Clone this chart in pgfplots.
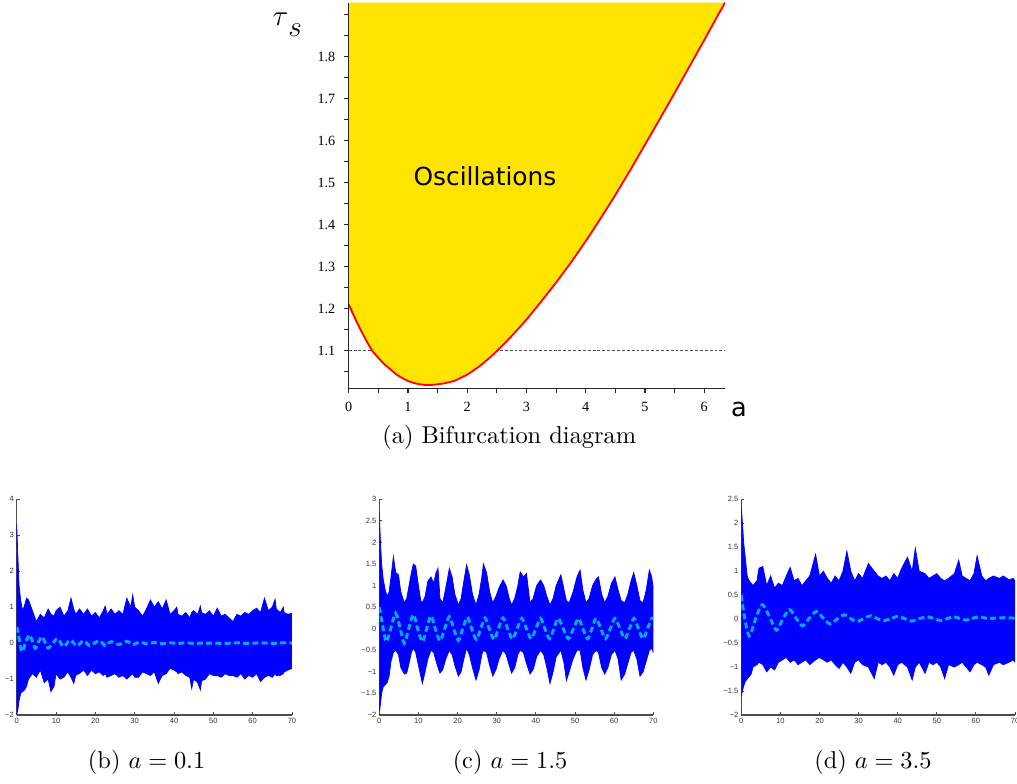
\documentclass[border=0pt]{standalone}
\usepackage{fontspec}
\usepackage{pgfplots}
\pgfplotsset{compat=1.18}
\usepackage{pgfplotstable}
\usepgfplotslibrary{fillbetween}
\newfontfamily\timesf{Liberation Serif}
\newfontfamily\helv{Liberation Sans}
\newfontfamily\dejavu{DejaVu Sans}
\definecolor{oscyellow}{RGB}{255,228,0}

\pgfplotstableread{
a tau
0 1.210
0.1 1.179
0.2 1.150
0.3 1.123
0.4 1.099
0.5 1.083
0.6 1.068
0.7 1.056
0.8 1.044
0.9 1.035
1.0 1.028
1.1 1.023
1.2 1.020
1.3 1.0183
1.4 1.0185
1.5 1.020
1.6 1.022
1.7 1.025
1.8 1.029
2.0 1.043
2.2 1.062
2.4 1.086
2.5 1.099
2.75 1.135
3.0 1.174
3.25 1.2175
3.5 1.2625
3.75 1.310
4.0 1.361
4.25 1.415
4.5 1.471
4.75 1.530
5.0 1.591
5.25 1.652
5.5 1.714
5.75 1.777
6.0 1.840
6.25 1.904
6.35 1.929
}\tabA

\pgfplotstableread{
t up lo
0 3.3 -2.0
0.3 2.4 -1.85
0.6 1.6 -1.6
1 1.2 -1.4
1.5 0.9 -1.35
2 1.05 -1.3
2.5 1.25 -1.2
3 1.2 -1.0
4 0.9 -0.85
5 0.6 -0.95
6 0.8 -0.75
7 0.7 -1.1
8 0.95 -1.0
8.7 0.8 -1.35
9.5 0.75 -1.2
10 0.9 -0.85
11 1.0 -1.0
12 0.75 -0.95
13 0.9 -0.8
13.8 1.25 -0.95
14.5 0.95 -1.12
15 0.8 -0.9
16 0.95 -0.84
17 0.8 -0.75
18 0.95 -0.9
19 0.75 -0.75
20 0.85 -0.85
21 0.7 -0.8
22 0.9 -0.9
22.5 1.03 -0.85
23 0.8 -0.95
24 0.95 -0.9
25 0.8 -0.85
26 0.9 -0.95
27 0.8 -0.9
28 1.25 -1.0
29 1.0 -0.9
29.5 1.34 -0.85
30 1.0 -0.95
31 0.9 -0.95
32 0.75 -0.8
33 0.95 -0.85
34 1.2 -0.9
35 1.0 -0.8
36 1.15 -1.12
37 0.95 -0.9
38 1.2 -0.85
39 0.8 -0.7
40 0.9 -0.75
40.7 1.0 -0.8
41 0.8 -0.85
42 0.75 -0.8
43 0.85 -0.9
44 0.7 -0.95
44.5 0.85 -1.26
45 0.9 -1.0
46 0.8 -1.1
46.7 1.03 -1.3
47 0.85 -1.05
48 0.8 -1.0
49 0.9 -0.85
50 0.75 -0.9
51 0.97 -0.9
52 0.75 -0.95
53 0.8 -0.85
54 0.7 -0.9
55 0.6 -0.9
56 0.8 -0.95
57 0.75 -0.85
58 0.85 -1.0
59 0.8 -0.9
60 0.9 -0.95
61 0.97 -0.85
62 0.85 -1.07
63 1.25 -0.95
64 0.9 -0.9
65 1.0 -0.95
65.7 1.22 -0.85
66 0.95 -0.9
67 0.85 -0.9
67.8 1.0 -0.85
68 0.85 -0.8
69 0.8 -0.75
70 0.83 -0.7
}\tabB

\pgfplotstableread{
t up lo
0 2.7 -1.95
0.3 2.0 -1.75
0.6 1.5 -1.5
1 1.15 -1.35
1.5 0.9 -1.3
2 0.75 -1.25
2.5 0.85 -1.1
3 1.2 -0.75
3.6 1.67 -0.55
4.2 1.3 -0.5
4.9 1.25 -0.6
5.5 0.85 -0.9
6.4 0.6 -1.05
7 0.7 -1.03
7.6 1.0 -0.8
8.2 1.3 -0.55
8.7 1.5 -0.45
9.3 1.45 -0.55
10 1.0 -0.85
10.6 0.65 -1.1
11 0.6 -1.27
11.7 0.75 -1.0
12.4 1.1 -0.7
13.2 1.2 -0.5
13.9 1.05 -0.55
14.5 1.3 -0.75
15.0 1.4 -0.9
15.5 0.7 -1.03
16.2 0.6 -0.95
17 0.95 -0.7
17.9 1.4 -0.5
18.6 1.2 -0.6
19.3 0.8 -0.85
20.2 0.55 -1.1
20.9 0.7 -1.0
21.6 1.1 -0.7
22.3 1.48 -0.45
23 1.25 -0.6
23.8 0.8 -0.9
24.7 0.55 -1.19
25.5 0.8 -0.95
26.2 1.2 -0.6
26.6 1.5 -0.5
27.4 1.3 -0.55
28.2 0.85 -0.85
29 0.6 -1.1
29.8 0.75 -0.95
30.6 0.95 -0.7
31.6 1.13 -0.5
32.4 1.0 -0.6
33.2 0.7 -0.85
33.8 0.55 -1.03
34.6 0.7 -0.9
35.4 1.0 -0.6
36 1.32 -0.5
36.8 1.2 -0.55
37.6 1.28 -0.8
38.5 0.6 -1.05
39.3 0.7 -0.95
40.2 1.0 -0.65
41.2 1.13 -0.5
42 1.0 -0.6
42.8 0.75 -0.9
43.6 0.55 -1.27
44.4 0.7 -1.0
45.2 1.0 -0.65
46.4 1.25 -0.5
47.2 0.9 -0.8
47.8 0.65 -1.2
48.5 0.6 -1.0
49.5 0.85 -0.7
50.5 1.2 -0.5
51.3 1.36 -0.5
52 0.9 -0.9
52.8 0.6 -1.19
53.6 0.7 -0.95
54.5 1.0 -0.6
55.4 1.15 -0.5
56 1.2 -0.55
56.8 0.8 -0.9
57.6 0.6 -1.05
58.4 0.75 -0.9
59.3 1.05 -0.6
60.2 1.2 -0.5
61 0.9 -0.7
61.8 0.65 -1.19
62.7 0.6 -1.05
63.5 0.8 -0.8
64.3 1.1 -0.55
65 1.3 -0.5
65.8 1.0 -0.7
66.6 0.65 -1.1
67.4 0.6 -1.0
68.2 0.9 -0.75
69 1.36 -0.5
69.6 1.2 -0.45
70 0.93 -0.55
}\tabC

\pgfplotstableread{
t up lo
0 2.35 -1.6
0.3 2.0 -1.5
0.6 1.6 -1.4
1 1.3 -1.3
1.5 0.9 -1.25
2 0.8 -1.2
2.5 0.75 -1.15
3 0.7 -1.0
4 0.8 -0.95
4.5 1.06 -0.9
5.5 1.1 -0.95
6.5 0.7 -1.1
7.5 0.9 -1.0
8.5 0.65 -1.06
9.5 0.75 -0.9
10.5 0.7 -0.85
11.5 0.9 -0.8
12.5 1.08 -0.9
13.5 0.8 -0.85
14.5 0.85 -0.95
15.5 0.7 -0.9
16.5 0.8 -0.85
17.5 0.9 -0.95
19 1.35 -0.85
20 0.9 -0.8
21 1.0 -0.85
22 0.85 -0.9
23 0.75 -0.85
24 0.9 -0.95
25 0.8 -1.03
26 1.0 -0.9
27 1.42 -1.0
28 1.0 -1.13
29 0.8 -0.9
30 0.95 -0.85
31 0.85 -0.95
32.5 1.16 -1.0
34 1.0 -1.24
35 0.9 -0.9
36 0.85 -0.95
37 0.9 -0.9
38 0.8 -1.0
39 0.95 -1.17
40 0.85 -0.95
41 1.06 -0.9
42.5 1.29 -1.0
43.7 1.0 -1.27
44.5 1.48 -1.0
45.5 1.0 -0.9
47 0.95 -1.13
48 0.85 -0.9
49 0.9 -0.95
50 0.95 -0.9
51 0.85 -1.0
52 0.8 -1.24
53 0.85 -0.95
54.5 0.95 -1.0
55.6 1.23 -0.95
56.5 0.9 -0.9
57.5 0.85 -1.0
58.5 0.8 -1.1
59.5 0.95 -0.95
60.3 1.32 -0.9
61.5 0.9 -0.95
62.5 0.8 -1.0
63.3 0.85 -1.17
64.5 0.9 -0.95
66 0.85 -0.9
67 0.9 -0.95
68.5 0.82 -0.9
69.5 0.85 -0.85
70 0.8 -0.9
}\tabD

\pgfplotsset{
  smallts/.style={
    scale only axis, anchor=south west,
    width=112.5pt, height=88.44pt,
    xmin=0, xmax=70, ymin=-2,
    axis x line=bottom, axis y line=left,
    axis line style={-, line width=0.5pt, draw=black!70},
    tick align=inside, major tick length=1.2pt,
    tick style={draw=black!70, line width=0.4pt},
    xtick={0,10,...,70},
    tick label style={font=\helv\fontsize{3.1}{3.5}\selectfont, text=black!80, inner sep=1pt},
    /pgf/number format/assume math mode=true,
  },
  cyanline/.style={cyan, line width=1.2pt, smooth, dash pattern=on 2.4pt off 1.4pt},
}

\begin{document}
\begin{tikzpicture}

\begin{axis}[
  at={(142.97pt,161.83pt)}, anchor=south west, scale only axis,
  width=154.28pt, height=158.1pt,
  xmin=0, xmax=6.35, ymin=1.0105, ymax=1.929,
  axis x line=bottom, axis y line=left,
  axis line style={-, line width=0.6pt, draw=black!85},
  tick style={line width=0.5pt, draw=black!85},
  tick align=outside, major tick length=2pt, minor tick length=2pt,
  xtick={0,1,2,3,4,5,6}, minor xtick={0.5,1.5,2.5,3.5,4.5,5.5},
  ytick={1.1,1.2,1.3,1.4,1.5,1.6,1.7,1.8},
  minor ytick={1.05,1.15,1.25,1.35,1.45,1.55,1.65,1.75,1.85,1.9},
  tick label style={font=\timesf\fontsize{5.8}{6}\selectfont},
  /pgf/number format/assume math mode=true,
  axis on top,
]
\addplot[black!70, line width=0.4pt, dash pattern=on 1.2pt off 0.8pt] coordinates {(0,1.1) (6.35,1.1)};
\addplot[fill=oscyellow, draw=none] table[x=a, y=tau] {\tabA} -- (axis cs:0,1.929) -- cycle;
\addplot[red, line width=0.75pt] table[x=a, y=tau] {\tabA};
\node[font=\dejavu\fontsize{10.2}{12}\selectfont] at (axis cs:2.3,1.516) {Oscillations};
\end{axis}

\node[anchor=base west, font=\fontsize{13}{15}\selectfont, inner sep=0pt] at (111.6pt,310.5pt) {$\tau\raisebox{-4.3pt}{$s$}$};
\node[font=\dejavu\fontsize{10.5}{12}\selectfont] at (303.0pt,153.3pt) {a};
\node[anchor=base] at (208.8pt,139.3pt) {(a) Bifurcation diagram};

% (b)
\begin{axis}[smallts, at={(6.85pt,27.88pt)}, width=112.87pt, ymax=4,
  ytick={-2,-1,0,1,2,3,4}, yticklabels={−2,−1,0,1,2,3,4}]
\addplot[blue, line width=0.3pt, name path=U] table[x=t, y=up] {\tabB};
\addplot[blue, line width=0.3pt, name path=L] table[x=t, y=lo] {\tabB};
\addplot[fill=blue, draw=none] fill between[of=U and L];
\addplot[cyanline] coordinates {(0,0.45) (0.5,0.2) (1.3,-0.24) (2.2,0.0) (3.2,0.23) (4,0.05) (4.7,-0.14) (5.5,0.02) (6.4,0.18) (7.2,0.02) (8,-0.14) (9.2,0.0) (10.3,0.13) (11.1,0.02) (11.9,-0.1) (12.8,0.0) (13.6,0.09) (14.5,0.0) (15.3,-0.08) (16.2,0.0) (17,0.07) (17.8,0.0) (18.5,-0.07) (19.7,0.0) (21,0.07) (21.8,0.0) (22.5,-0.07) (23.3,0) (24,0.04) (25,0.0) (25.8,-0.04) (27,0.0) (28,0.05) (29,0) (29.7,-0.04) (30.5,0) (31.4,0.03) (33,-0.02) (35,0.02) (37,-0.02) (39,0.01) (41,-0.01) (43,0.01) (45,-0.01) (47,0.0) (50,0.0) (53,-0.01) (56,0.01) (59,-0.01) (62,0.01) (65,-0.01) (68,0.01) (70,0.0)};
\end{axis}
\node[anchor=base] at (60.1pt,6.07pt) {(b) $a = 0.1$};

% (c)
\begin{axis}[smallts, at={(155.51pt,27.88pt)}, width=112.34pt, ymax=3,
  ytick={-2,-1.5,-1,-0.5,0,0.5,1,1.5,2,2.5,3}, yticklabels={−2,−1.5,−1,−0.5,0,0.5,1,1.5,2,2.5,3}]
\addplot[blue, line width=0.3pt, name path=U] table[x=t, y=up] {\tabC};
\addplot[blue, line width=0.3pt, name path=L] table[x=t, y=lo] {\tabC};
\addplot[fill=blue, draw=none] fill between[of=U and L];
\addplot[cyanline] coordinates {(0,0.5) (0.9,0.05) (1.8,-0.3) (3,0.03) (4.17,0.36) (5.3,0.02) (6.4,-0.34) (7.5,0.0) (8.7,0.33) (9.8,0.0) (11,-0.3) (12.1,0.0) (13.2,0.3) (14.3,0.0) (15.5,-0.28) (16.7,0.0) (17.9,0.28) (19,0.0) (20.2,-0.27) (21.3,0.0) (22.5,0.27) (23.6,0.0) (24.8,-0.25) (25.9,0.0) (27,0.25) (28.1,0.0) (29.3,-0.25) (30.4,0.0) (31.6,0.25) (32.8,0.0) (34,-0.24) (35.2,0.0) (36.4,0.24) (37.6,0.0) (38.8,-0.23) (40,0.0) (41.2,0.24) (42.3,0.0) (43.5,-0.23) (44.6,0.0) (45.7,0.24) (47,0.0) (48.3,-0.23) (49.6,0.0) (50.9,0.24) (52,0.0) (53.2,-0.23) (54.3,0.0) (55.4,0.24) (56.6,0.0) (57.8,-0.23) (59,0.0) (60.2,0.24) (61.5,0.0) (62.7,-0.23) (63.9,0.0) (65.1,0.24) (66.2,0.0) (67.4,-0.23) (68.5,0.0) (69.6,0.24) (70,0.23)};
\end{axis}
\node[anchor=base] at (209.1pt,6.07pt) {(c) $a = 1.5$};

% (d)
\begin{axis}[smallts, at={(303.93pt,27.88pt)}, width=112.22pt, ymax=2.5,
  ytick={-2,-1.5,-1,-0.5,0,0.5,1,1.5,2,2.5}, yticklabels={−2,−1.5,−1,−0.5,0,0.5,1,1.5,2,2.5}]
\addplot[blue, line width=0.3pt, name path=U] table[x=t, y=up] {\tabD};
\addplot[blue, line width=0.3pt, name path=L] table[x=t, y=lo] {\tabD};
\addplot[fill=blue, draw=none] fill between[of=U and L];
\addplot[cyanline] coordinates {(0,0.5) (0.8,0.05) (2,-0.35) (3.2,-0.1) (4.3,0.15) (5.5,0.3) (7.2,0.05) (9,-0.23) (10.6,0.0) (12.3,0.2) (14,0.02) (15.7,-0.14) (17.4,0.02) (19.2,0.16) (21,0.02) (22.7,-0.1) (24.5,0.0) (26.3,0.09) (28,0.01) (29.5,-0.05) (31.3,0.01) (33,0.07) (34.8,0.01) (36.5,-0.03) (38.3,0.01) (40,0.06) (41.8,0.01) (43.5,-0.04) (45.5,0.01) (47.6,0.05) (49.3,0.01) (51,-0.03) (52.7,0.01) (54.3,0.05) (56,0.01) (57.5,-0.02) (59.2,0.02) (61,0.05) (63,0.01) (65,0.02) (67,0.03) (70,0.02)};
\end{axis}
\node[anchor=base] at (357.9pt,6.07pt) {(d) $a = 3.5$};

\pgfresetboundingbox
\useasboundingbox (0,0) rectangle (416.97pt,321.03pt);
\end{tikzpicture}
\end{document}
